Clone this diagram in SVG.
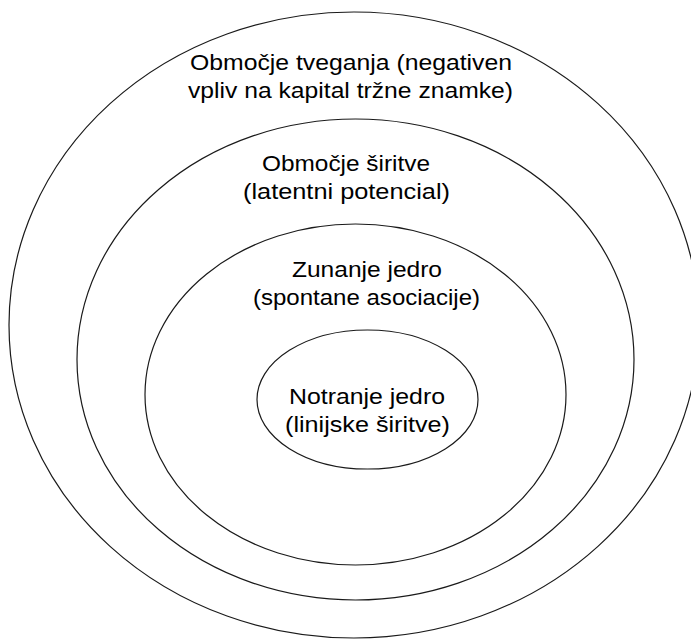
<svg xmlns="http://www.w3.org/2000/svg" width="691" height="639" viewBox="0 0 691 639">
<style>
.e{fill:none;stroke:#1a1a1a;stroke-width:1.2}
.t{font-family:"Liberation Sans","DejaVu Sans",Arial,sans-serif;font-size:22px;fill:#000;text-anchor:middle}
</style>
<rect width="691" height="639" fill="#fff"/>
<g id="zone-risk">
<ellipse class="e" cx="354" cy="325" rx="345" ry="313"/>
<text class="t" x="351" y="70" textLength="322" lengthAdjust="spacingAndGlyphs">Območje tveganja (negativen</text>
<text class="t" x="350.5" y="98" textLength="325" lengthAdjust="spacingAndGlyphs">vpliv na kapital tržne znamke)</text>
</g>
<g id="zone-spread">
<ellipse class="e" cx="355.5" cy="359.5" rx="278.5" ry="240.5"/>
<text class="t" x="346" y="171" textLength="168" lengthAdjust="spacingAndGlyphs">Območje širitve</text>
<text class="t" x="346.5" y="199" textLength="207" lengthAdjust="spacingAndGlyphs">(latentni potencial)</text>
</g>
<g id="outer-core">
<ellipse class="e" cx="355.5" cy="394.5" rx="210.5" ry="170.5"/>
<text class="t" x="367" y="277" textLength="150" lengthAdjust="spacingAndGlyphs">Zunanje jedro</text>
<text class="t" x="366.5" y="305" textLength="227" lengthAdjust="spacingAndGlyphs">(spontane asociacije)</text>
</g>
<g id="inner-core">
<ellipse class="e" cx="367.5" cy="399.5" rx="110.5" ry="69.5"/>
<text class="t" x="367" y="404" textLength="156" lengthAdjust="spacingAndGlyphs">Notranje jedro</text>
<text class="t" x="367.5" y="432" textLength="165" lengthAdjust="spacingAndGlyphs">(linijske širitve)</text>
</g>
<g id="connectors"/>
</svg>
